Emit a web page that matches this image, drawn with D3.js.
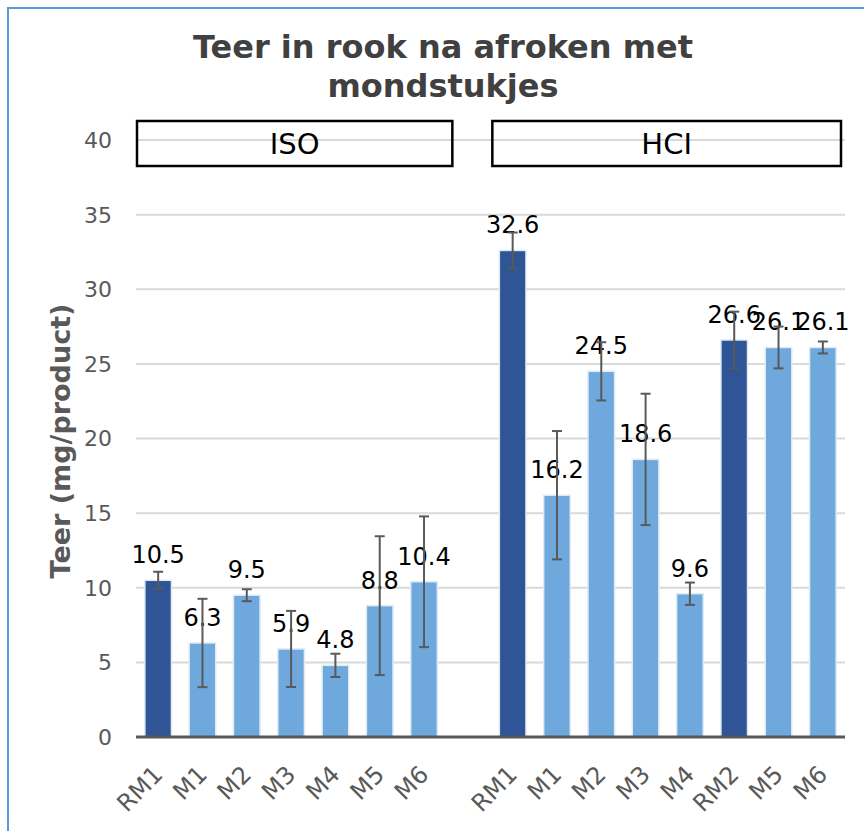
<!DOCTYPE html>
<html>
<head>
<meta charset="utf-8">
<script src="https://cdn.jsdelivr.net/npm/d3@7"></script>
<style>
  body { margin: 0; background: #fff; }
  text { font-family: "DejaVu Sans", Verdana, sans-serif; }
</style>
</head>
<body>
<div id="chart"></div>
<script>
const groups = ["ISO", "HCI"];
const isoLabels = ["RM1", "M1", "M2", "M3", "M4", "M5", "M6"];
const isoValues = [10.5, 6.3, 9.5, 5.9, 4.8, 8.8, 10.4];
const isoErrors = [0.57, 2.96, 0.4, 2.55, 0.78, 4.65, 4.38];
const hciLabels = ["RM1", "M1", "M2", "M3", "M4", "RM2", "M5", "M6"];
const hciValues = [32.6, 16.2, 24.5, 18.6, 9.6, 26.6, 26.1, 26.1];
const hciErrors = [1.2, 4.3, 1.95, 4.4, 0.75, 1.9, 1.4, 0.4];
const yTicks = [0, 5, 10, 15, 20, 25, 30, 35, 40];

const width = 864,
  height = 831;

const rows = [];
isoLabels.forEach((l, i) =>
  rows.push({ key: "ISO-" + l, label: l, group: "ISO", value: isoValues[i], err: isoErrors[i] })
);
hciLabels.forEach((l, i) =>
  rows.push({ key: "HCI-" + l, label: l, group: "HCI", value: hciValues[i], err: hciErrors[i] })
);

// empty slot between the two panels
const domain = isoLabels.map((l) => "ISO-" + l)
  .concat(["gap"])
  .concat(hciLabels.map((l) => "HCI-" + l));

const x = d3.scaleBand().domain(domain).range([136, 845]).paddingInner(0.4).paddingOuter(0.2);
const y = d3.scaleLinear().domain([0, 40]).range([737, 140]);

const svg = d3.select("#chart").append("svg").attr("width", width).attr("height", height);

svg.append("rect").attr("width", width).attr("height", height).attr("fill", "#fff");
svg.append("rect")
  .attr("x", 8).attr("y", 8)
  .attr("width", 900).attr("height", 900)
  .attr("fill", "none")
  .attr("stroke", "#5b9bd5")
  .attr("stroke-width", 2);

// title
const title = svg.append("text")
  .attr("text-anchor", "middle")
  .attr("fill", "#404040")
  .style("font-weight", "bold")
  .style("font-size", "32px");
title.append("tspan").attr("x", 443).attr("y", 58).text("Teer in rook na afroken met");
title.append("tspan").attr("x", 443).attr("y", 97).text("mondstukjes");

// gridlines
svg.append("g")
  .selectAll("line")
  .data(yTicks)
  .enter()
  .append("line")
  .attr("x1", 136).attr("x2", 845)
  .attr("y1", (d) => y(d)).attr("y2", (d) => y(d))
  .attr("stroke", "#d9d9d9")
  .attr("stroke-width", 2);

// y tick labels
svg.append("g")
  .selectAll("text")
  .data(yTicks)
  .enter()
  .append("text")
  .attr("x", 112)
  .attr("y", (d) => y(d))
  .attr("dy", "0.36em")
  .attr("text-anchor", "end")
  .attr("fill", "#595959")
  .style("font-size", "22px")
  .text((d) => d);

svg.append("text")
  .attr("transform", "translate(70,441) rotate(-90)")
  .attr("text-anchor", "middle")
  .attr("fill", "#595959")
  .style("font-weight", "bold")
  .style("font-size", "27px")
  .text("Teer (mg/product)");

// panel header boxes
const gapMid = x("gap") + x.bandwidth() / 2;
const panels = [
  { name: groups[0], x0: 137, x1: gapMid - 16 },
  { name: groups[1], x0: gapMid + 24, x1: 841 }
];
const head = svg.append("g").selectAll("g").data(panels).enter().append("g");
head.append("rect")
  .attr("x", (d) => d.x0)
  .attr("y", 121)
  .attr("width", (d) => d.x1 - d.x0)
  .attr("height", 45)
  .attr("fill", "none")
  .attr("stroke", "#000")
  .attr("stroke-width", 2.5);
head.append("text")
  .attr("x", (d) => (d.x0 + d.x1) / 2)
  .attr("y", 154)
  .attr("text-anchor", "middle")
  .attr("fill", "#000")
  .style("font-size", "29px")
  .text((d) => d.name);

// bars
svg.append("g")
  .selectAll("rect")
  .data(rows)
  .enter()
  .append("rect")
  .attr("x", (d) => x(d.key))
  .attr("y", (d) => y(d.value))
  .attr("width", x.bandwidth())
  .attr("height", (d) => y(0) - y(d.value))
  .attr("fill", (d) => (d.label.startsWith("RM") ? "#2f5597" : "#6fa8dc"))
  .attr("stroke", "#deebf7")
  .attr("stroke-width", 1.5);

// axis line
svg.append("line")
  .attr("x1", 136).attr("x2", 845)
  .attr("y1", y(0)).attr("y2", y(0))
  .attr("stroke", "#595959")
  .attr("stroke-width", 3);

// data labels
svg.append("g")
  .selectAll("text")
  .data(rows)
  .enter()
  .append("text")
  .attr("x", (d) => x(d.key) + x.bandwidth() / 2)
  .attr("y", (d) => y(d.value) - 17)
  .attr("text-anchor", "middle")
  .attr("fill", "#000")
  .style("font-size", "24px")
  .text((d) => d.value);

// error bars
const err = svg.append("g")
  .attr("stroke", "#595959")
  .attr("stroke-width", 2)
  .selectAll("g")
  .data(rows)
  .enter()
  .append("g");
const cx = (d) => x(d.key) + x.bandwidth() / 2;
err.append("line")
  .attr("x1", cx).attr("x2", cx)
  .attr("y1", (d) => y(d.value + d.err))
  .attr("y2", (d) => y(d.value - d.err));
err.append("line")
  .attr("x1", (d) => cx(d) - 5).attr("x2", (d) => cx(d) + 5)
  .attr("y1", (d) => y(d.value + d.err)).attr("y2", (d) => y(d.value + d.err));
err.append("line")
  .attr("x1", (d) => cx(d) - 5).attr("x2", (d) => cx(d) + 5)
  .attr("y1", (d) => y(d.value - d.err)).attr("y2", (d) => y(d.value - d.err));

// x tick labels
svg.append("g")
  .selectAll("text")
  .data(rows)
  .enter()
  .append("text")
  .attr("transform", (d) => `translate(${cx(d) + 6},776) rotate(-45)`)
  .attr("text-anchor", "end")
  .attr("fill", "#595959")
  .style("font-size", "24px")
  .text((d) => d.label);
</script>
</body>
</html>
